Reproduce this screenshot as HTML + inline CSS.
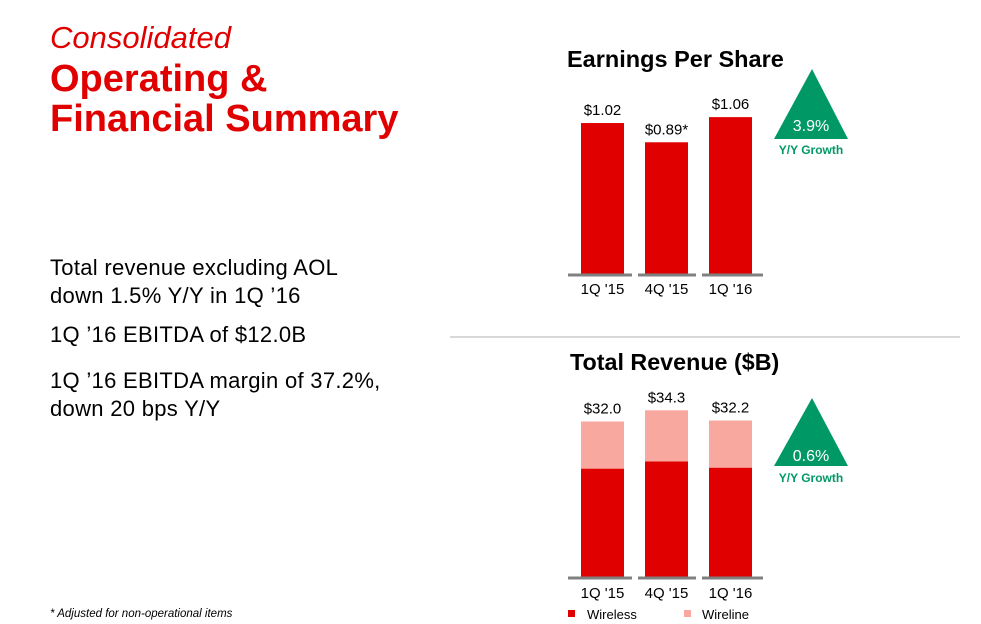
<!DOCTYPE html>
<html><head><meta charset="utf-8"><style>
html,body{margin:0;padding:0;background:#fff;}
svg{display:block;font-family:"Liberation Sans",Arial,sans-serif;}
</style></head><body>
<svg id="c" width="981" height="624" viewBox="0 0 981 624">
<text x="50" y="48" font-size="31" font-style="italic" fill="#e00000">Consolidated</text>
<text x="50" y="91" font-size="38" font-weight="bold" fill="#e00000">Operating &amp;</text>
<text x="50" y="131" font-size="38" font-weight="bold" fill="#e00000">Financial Summary</text>
<g font-size="22" letter-spacing="0.3" fill="#000">
<text x="50" y="275">Total revenue excluding AOL</text>
<text x="50" y="303">down 1.5% Y/Y in 1Q ’16</text>
<text x="50" y="342">1Q ’16 EBITDA of $12.0B</text>
<text x="50" y="388">1Q ’16 EBITDA margin of 37.2%,</text>
<text x="50" y="416">down 20 bps Y/Y</text>
</g>
<text x="50" y="617" font-size="11.5" font-style="italic" fill="#000">* Adjusted for non-operational items</text>
<line x1="450" y1="337" x2="960" y2="337" stroke="#ccc" stroke-width="1.5"/>
<text x="567" y="67" font-size="23.5" font-weight="bold" fill="#000">Earnings Per Share</text>
<text x="570" y="370" font-size="23.3" font-weight="bold" fill="#000">Total Revenue ($B)</text>
<polygon points="812,69 774,139 848,139" fill="#009966"/>
<text x="811" y="131" font-size="16" fill="#fff" text-anchor="middle">3.9%</text>
<text x="811" y="154" font-size="12" font-weight="bold" fill="#009966" text-anchor="middle">Y/Y Growth</text>
<polygon points="812,398 774,466 848,466" fill="#009966"/>
<text x="811" y="461" font-size="16" fill="#fff" text-anchor="middle">0.6%</text>
<text x="811" y="482" font-size="12" font-weight="bold" fill="#009966" text-anchor="middle">Y/Y Growth</text>
<rect x="568" y="610" width="7" height="7" fill="#e00000"/>
<text x="587" y="619" font-size="13" fill="#000">Wireless</text>
<rect x="684" y="610" width="7" height="7" fill="#f9a8a0"/>
<text x="702" y="619" font-size="13" fill="#000">Wireline</text>
<g id="g"></g>
</svg>
<script>
const categories = ["1Q '15", "4Q '15", "1Q '16"];
const epsValues = [1.02, 0.89, 1.06];
const epsLabels = ["$1.02", "$0.89*", "$1.06"];
const wirelessValues = [22.3, 23.8, 22.5];
const wirelineValues = [9.7, 10.5, 9.7];
const revenueLabels = ["$32.0", "$34.3", "$32.2"];

const NS = "http://www.w3.org/2000/svg";
const g = document.getElementById('g');
function mk(tag, attrs, text){const e=document.createElementNS(NS,tag);for(const k in attrs)e.setAttribute(k,attrs[k]);if(text!==undefined)e.textContent=text;g.appendChild(e);return e;}
function xBand(i){return 581 + i*64;}
const barW = 43;
function yEps(v){return 274 - v*148;}
function yRev(v){return 577 - v*4.86;}
const segs=[[568,632],[638,696],[702,763]];

categories.forEach((c,i)=>{
  const x = xBand(i);
  const top = yEps(epsValues[i]);
  const b = mk('rect',{x:x,y:top,width:barW,height:274-top,fill:'#e00000'});
  
  
  const l = mk('text',{x:x+barW/2,y:top-8,'font-size':15,'text-anchor':'middle',fill:'#000'},epsLabels[i]);
  
  
  const ax = mk('line',{x1:segs[i][0],x2:segs[i][1],y1:275,y2:275,stroke:'#808080','stroke-width':3});
  
  
  const cl = mk('text',{x:x+barW/2,y:294,'font-size':15,'text-anchor':'middle',fill:'#000'},c);
  
  
  const wt = yRev(wirelessValues[i]);
  const tt = yRev(wirelessValues[i]+wirelineValues[i]);
  const w = mk('rect',{x:x,y:wt,width:barW,height:577-wt,fill:'#e00000'});
  
  
  const wl = mk('rect',{x:x,y:tt,width:barW,height:wt-tt,fill:'#f9a8a0'});
  
  
  const rl = mk('text',{x:x+barW/2,y:tt-8,'font-size':15,'text-anchor':'middle',fill:'#000'},revenueLabels[i]);
  
  
  const ax2 = mk('line',{x1:segs[i][0],x2:segs[i][1],y1:578,y2:578,stroke:'#808080','stroke-width':3});
  
  
  const cl2 = mk('text',{x:x+barW/2,y:598,'font-size':15,'text-anchor':'middle',fill:'#000'},c);
  
  
});
</script>
</body></html>
